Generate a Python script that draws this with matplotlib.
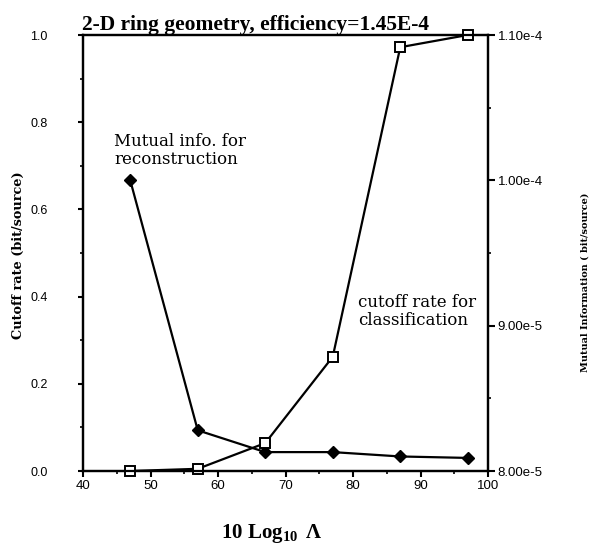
import numpy as np
import matplotlib
matplotlib.use("Agg")
import matplotlib.pyplot as plt
from matplotlib.ticker import MultipleLocator, FixedLocator, FixedFormatter

plt.rcParams["mathtext.fontset"] = "custom"
plt.rcParams["mathtext.rm"] = "Liberation Serif:bold"
plt.rcParams["mathtext.bf"] = "Liberation Serif:bold"

# --------------------------------------------------------------------------- #
#  Data                                                  #
# --------------------------------------------------------------------------- #

log_lambda  = [47, 57, 67, 77, 87, 97]
cutoff_rate = [0.0, 0.005, 0.064, 0.262, 0.972, 1.0]
mutual_info = [1.0e-4, 8.28e-5, 8.13e-5, 8.13e-5, 8.10e-5, 8.09e-5]

x_ticks      = [40, 50, 60, 70, 80, 90, 100]
left_ticks   = [0.0, 0.2, 0.4, 0.6, 0.8, 1.0]
left_labels  = ["0.0", "0.2", "0.4", "0.6", "0.8", "1.0"]
right_ticks  = [8.0e-5, 9.0e-5, 1.0e-4, 1.1e-4]
right_labels = ["8.00e-5", "9.00e-5", "1.00e-4", "1.10e-4"]

TITLE  = "2-D ring geometry, efficiency=1.45E-4"
SERIF  = "DejaVu Serif"
TIMES  = "Liberation Serif"
SANS   = "Liberation Sans"

# --------------------------------------------------------------------------- #
#  Figure                                                                      #
# --------------------------------------------------------------------------- #

fig = plt.figure(figsize=(6.03, 5.44), dpi=100)
ax = fig.add_axes([83 / 603, 73 / 544, 405 / 603, 436 / 544])
ax2 = ax.twinx()
ax.set_zorder(ax2.get_zorder() + 1)
ax.patch.set_visible(False)

ax2.plot(log_lambda, mutual_info, "-", color="black", lw=1.6,
         marker="D", ms=6, mfc="black", mec="black", clip_on=False)
ax.plot(log_lambda, cutoff_rate, "-", color="black", lw=1.6,
        marker="s", ms=6.5, mfc="white", mec="black", mew=1.4, clip_on=False)

ax.set_xlim(40, 100)
ax.set_ylim(0, 1)
ax2.set_ylim(8.0e-5, 1.1e-4)

for a in (ax, ax2):
    for s in a.spines.values():
        s.set_linewidth(1.6)

ax.xaxis.set_major_locator(FixedLocator(x_ticks))
ax.xaxis.set_minor_locator(MultipleLocator(5))
ax.yaxis.set_major_locator(FixedLocator(left_ticks))
ax.yaxis.set_major_formatter(FixedFormatter(left_labels))
ax.yaxis.set_minor_locator(MultipleLocator(0.1))
ax2.yaxis.set_major_locator(FixedLocator(right_ticks))
ax2.yaxis.set_major_formatter(FixedFormatter(right_labels))
ax2.yaxis.set_minor_locator(MultipleLocator(5e-6))

# lengths and pads are in points (1 pt = 1.39 px here)
ax.tick_params(axis="x", which="major", direction="out", length=4.3, width=1.5,
               pad=2, labelsize=9.5, top=False)
ax.tick_params(axis="x", which="minor", direction="out", length=2.2, width=1.2,
               top=False)
ax.tick_params(axis="y", which="major", direction="out", length=3.6, width=1.5,
               pad=22, labelsize=9, right=False)
ax.tick_params(axis="y", which="minor", direction="out", length=2.2, width=1.2,
               right=False)
ax2.tick_params(axis="y", which="major", direction="out", length=5, width=1.5,
                pad=2, labelsize=9.5)
ax2.tick_params(axis="y", which="minor", direction="out", length=2.2, width=1.2)

for lab in ax.get_xticklabels() + ax.get_yticklabels() + ax2.get_yticklabels():
    lab.set_family(SANS)

# --------------------------------------------------------------------------- #
#  Labels                                                                      #
# --------------------------------------------------------------------------- #

fig.text(82 / 603, (544 - 30) / 544, TITLE, ha="left", va="baseline",
         family=TIMES, weight="bold", size=15.5)

ax.set_xlabel(r"10 Log$_{10}\,$ Λ", family=TIMES, weight="bold", size=15,
              va="baseline")
ax.xaxis.set_label_coords(0.467, -0.154)

ax.set_ylabel("Cutoff rate (bit/source)", family=SERIF, weight="bold",
              size=9.3, va="center", ha="center")
ax.yaxis.set_label_coords(-0.16, 0.495)

ax2.set_ylabel("Mutual Information ( bit/source)", family=SERIF,
               weight="bold", size=7, va="center", ha="center", rotation=90)
ax2.yaxis.set_label_coords(1.24, 0.433)

ax.text(44.6, 0.775, "Mutual info. for\nreconstruction", family=SERIF,
        size=12, ha="left", va="top", linespacing=1.05)
ax.text(80.7, 0.405, "cutoff rate for\nclassification", family=SERIF,
        size=12, ha="left", va="top", linespacing=1.05)

fig.savefig("out.png", dpi=100)
